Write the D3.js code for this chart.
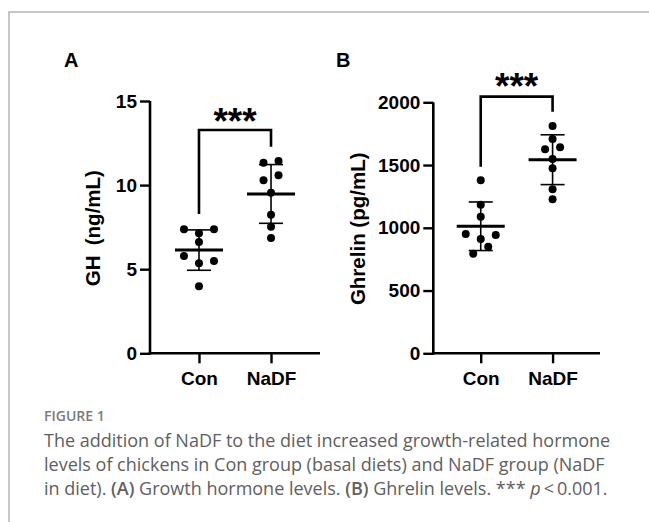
<!DOCTYPE html>
<html>
<head>
<meta charset="utf-8">
<script src="https://cdn.jsdelivr.net/npm/d3@7"></script>
<style>
  html, body { margin: 0; padding: 0; background: #fff; }
  svg { display: block; }
</style>
</head>
<body>
<svg id="fig" width="649" height="522"></svg>
<script>
// groups and values
const groups = ['Con', 'NaDF'];
const ghCon = [7.37, 7.13, 7.37, 6.62, 5.78, 5.35, 5.49, 3.98];
const ghNaDF = [11.33, 11.43, 10.29, 10.58, 9.55, 8.24, 7.53, 6.85];
const ghrelinCon = [1378, 1184, 1088, 951, 911, 943, 794, 849];
const ghrelinNaDF = [1811, 1708, 1625, 1641, 1548, 1474, 1307, 1227];
const ghTicks = [0, 5, 10, 15];
const ghrelinTicks = [0, 500, 1000, 1500, 2000];

const svg = d3.select('#fig');
const chartFont = '"Liberation Sans", Arial, sans-serif';

// light frame (top + left rule)
svg.append('path')
  .attr('d', 'M9,522V12H649')
  .attr('fill', 'none')
  .attr('stroke', '#b4b4b4')
  .attr('stroke-width', 1.5);

// spread points of similar height into rows, left to right in data order
function dodge(values, y, cx, step = 15, gap = 8) {
  const order = values.map((v, i) => i).sort((a, b) => values[b] - values[a]);
  const rows = [];
  order.forEach(i => {
    const last = rows[rows.length - 1];
    if (last && Math.abs(y(values[i]) - y(values[last[0]])) < gap) last.push(i);
    else rows.push([i]);
  });
  const out = [];
  rows.forEach(row => {
    row.sort((a, b) => a - b);
    row.forEach((i, k) => {
      out.push({ v: values[i], x: cx + (k - (row.length - 1) / 2) * step, y: y(values[i]) });
    });
  });
  return out;
}

function drawPanel({ letter, letterX, left, right, top, bottom, domain, ticks, title, titleX, series, bracket, padding }) {
  const g = svg.append('g');

  const x = d3.scalePoint().domain(groups).range([left, right]).padding(padding);
  const y = d3.scaleLinear().domain(domain).range([bottom, top]);

  g.append('text')
    .attr('x', letterX)
    .attr('y', 67)
    .attr('font-family', chartFont)
    .attr('font-weight', 'bold')
    .attr('font-size', 20)
    .text(letter);

  // y axis
  const yAxis = g.append('g')
    .attr('transform', `translate(${left},0)`)
    .call(d3.axisLeft(y).tickValues(ticks).tickFormat(d3.format('d'))
      .tickSize(10).tickPadding(3).tickSizeOuter(0));
  // x axis
  const xAxis = g.append('g')
    .attr('transform', `translate(0,${bottom})`)
    .call(d3.axisBottom(x).tickSize(10).tickPadding(8).tickSizeOuter(0));

  [yAxis, xAxis].forEach(ax => {
    ax.attr('font-family', chartFont).attr('font-size', 19);
    ax.select('.domain').attr('stroke', '#000').attr('stroke-width', 2.6);
    ax.selectAll('.tick line').attr('stroke', '#000').attr('stroke-width', 2.4);
    ax.selectAll('.tick text')
      .attr('fill', '#000')
      .attr('font-weight', 'bold');
  });
  yAxis.select('.domain').attr('d', `M0,${bottom + 1.3}V${top}`);
  xAxis.select('.domain').attr('d', `M${left - 1.3},0H${right}`);

  g.append('text')
    .attr('transform', `translate(${titleX},${(top + bottom) / 2 + 1}) rotate(-90)`)
    .attr('text-anchor', 'middle')
    .attr('font-family', chartFont)
    .attr('font-weight', 'bold')
    .attr('font-size', 20.5)
    .text(title);

  series.forEach((values, gi) => {
    const cx = x(groups[gi]);
    const mean = d3.mean(values);
    const sd = d3.deviation(values);

    g.append('g')
      .selectAll('circle')
      .data(dodge(values, y, cx))
      .join('circle')
      .attr('cx', d => d.x)
      .attr('cy', d => d.y)
      .attr('r', 4)
      .attr('fill', '#000');

    // SD whisker
    g.append('line')
      .attr('x1', cx).attr('x2', cx)
      .attr('y1', y(mean + sd)).attr('y2', y(mean - sd))
      .attr('stroke', '#000').attr('stroke-width', 1.6);
    [mean + sd, mean - sd].forEach(v => {
      g.append('line')
        .attr('x1', cx - 12).attr('x2', cx + 12)
        .attr('y1', y(v)).attr('y2', y(v))
        .attr('stroke', '#000').attr('stroke-width', 1.6);
    });
    // mean bar
    g.append('line')
      .attr('x1', cx - 24).attr('x2', cx + 24)
      .attr('y1', y(mean)).attr('y2', y(mean))
      .attr('stroke', '#000').attr('stroke-width', 3);
  });

  // significance bracket
  const x0 = x(groups[0]), x1 = x(groups[1]);
  g.append('path')
    .attr('d', `M${x0},${y(bracket.left)}V${y(bracket.top)}H${x1}V${y(bracket.right)}`)
    .attr('fill', 'none')
    .attr('stroke', '#000')
    .attr('stroke-width', 2.6);
  g.append('text')
    .attr('x', (x0 + x1) / 2)
    .attr('y', y(bracket.top) + bracket.starDy)
    .attr('text-anchor', 'middle')
    .attr('font-family', chartFont)
    .attr('font-weight', 'bold')
    .attr('font-size', 37)
    .text('***');
}

drawPanel({
  letter: 'A', letterX: 64, left: 150, right: 320, top: 101, bottom: 353.3,
  domain: [0, 15], ticks: ghTicks, title: 'GH\u2002(ng/mL)', titleX: 100,
  series: [ghCon, ghNaDF], padding: 0.68,
  bracket: { top: 13.28, left: 8.28, right: 12.28, starDy: 4.5 }
});

drawPanel({
  letter: 'B', letterX: 336, left: 433.3, right: 600, top: 102.3, bottom: 353.3,
  domain: [0, 2000], ticks: ghrelinTicks, title: 'Ghrelin (pg/mL)', titleX: 365,
  series: [ghrelinCon, ghrelinNaDF], padding: 0.66,
  bracket: { top: 2045, left: 1487, right: 1925, starDy: 2 }
});

// caption
const capFont = '"Open Sans", "Noto Sans", sans-serif';
svg.append('text')
  .attr('x', 44).attr('y', 421)
  .attr('font-family', capFont)
  .attr('font-weight', 600)
  .attr('font-size', 14)
  .attr('fill', '#7a7a7a')
  .text('FIGURE 1');

const capLines = [
  [['The addition of NaDF to the diet increased growth-related hormone', '']],
  [['levels of chickens in Con group (basal diets) and NaDF group (NaDF', '']],
  [['in diet). ', ''], ['(A)', 'b'], [' Growth hormone levels. ', ''], ['(B)', 'b'],
   [' Ghrelin levels. *** ', ''], ['p', 'i'], ['\u2009<\u20090.001.', '']]
];
capLines.forEach((parts, li) => {
  const t = svg.append('text')
    .attr('x', 44).attr('y', 447 + li * 24)
    .attr('font-family', capFont)
    .attr('font-size', 18)
    .attr('fill', '#606060');
  parts.forEach(([s, st]) => {
    t.append('tspan')
      .attr('font-weight', st === 'b' ? 600 : null)
      .attr('font-style', st === 'i' ? 'italic' : null)
      .text(s);
  });
});
</script>
</body>
</html>
